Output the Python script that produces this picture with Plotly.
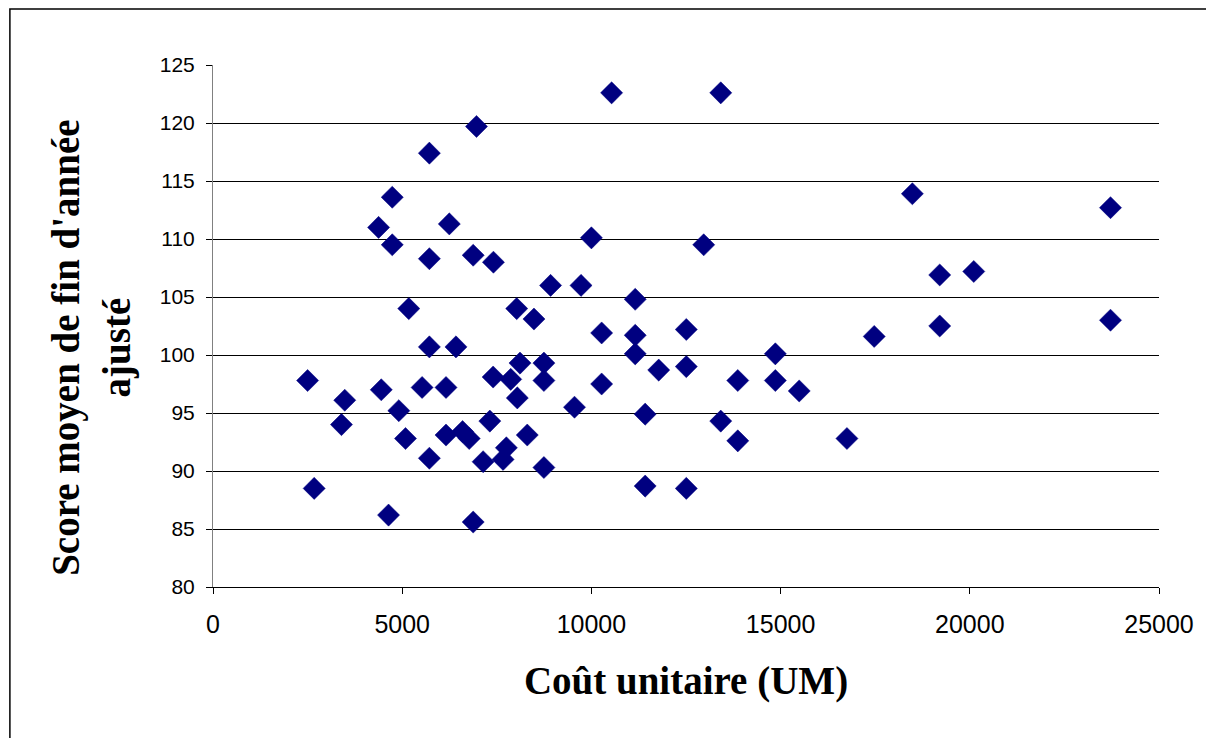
import plotly.graph_objects as go

# Coût unitaire (UM)
cout_unitaire = [
    2500, 2674, 3482, 3395, 4447, 4376, 4737, 4737, 4639, 4911,
    5087, 5174, 5718, 5718, 5718, 5526, 5718, 6158, 6158, 6245,
    6421, 6595, 6771, 6876, 6963, 6876, 7139, 7316, 7411, 7403,
    7666, 7753, 7868, 8026, 8042, 8113, 8305, 8482, 8745, 8745,
    8745, 8921, 9553, 9726, 10000, 10271, 10271, 10534, 11158, 11158,
    11158, 11421, 11421, 11779, 12508, 12508, 12508, 12968, 13418, 13418,
    13868, 13868, 14861, 14861, 15492, 16753, 17474, 18482, 19205, 19205,
    20105, 23718, 23718,
]

# Score moyen de fin d'année ajusté
score_ajuste = [
    97.8, 88.5, 96.1, 94.0, 97.0, 111.0, 113.6, 109.5, 86.2, 95.2,
    92.8, 104.0, 117.4, 108.3, 100.7, 97.2, 91.1, 97.2, 93.1, 111.3,
    100.7, 93.4, 92.8, 108.6, 119.7, 85.6, 90.8, 94.3, 108.0, 98.1,
    91.0, 92.0, 97.9, 104.0, 96.3, 99.3, 93.1, 103.1, 99.3, 97.8,
    90.3, 106.0, 95.5, 106.0, 110.1, 101.9, 97.5, 122.6, 104.8, 101.7,
    100.1, 94.9, 88.7, 98.7, 102.2, 99.0, 88.5, 109.5, 122.6, 94.3,
    97.8, 92.6, 100.1, 97.8, 96.9, 92.8, 101.6, 113.9, 106.9, 102.5,
    107.2, 112.7, 103.0,
]

x_ticks = [0, 5000, 10000, 15000, 20000, 25000]
y_ticks = [80, 85, 90, 95, 100, 105, 110, 115, 120, 125]

x_title = "Coût unitaire (UM)"
y_title = "Score moyen de fin d'année<br>ajusté"

title_font = dict(family="Liberation Serif, Times New Roman", size=39,
                  color="black", weight="bold")

fig = go.Figure()
fig.add_trace(go.Scatter(
    x=cout_unitaire,
    y=score_ajuste,
    mode="markers",
    marker=dict(symbol="diamond", size=17, color="#000080",
                line=dict(width=0.5, color="#000080")),
    showlegend=False,
    hoverinfo="x+y",
))

fig.update_layout(
    width=1198,
    height=730,
    paper_bgcolor="white",
    plot_bgcolor="white",
    margin=dict(l=205, r=43, t=57, b=151),
    xaxis=dict(
        range=[0, 25000],
        tickvals=x_ticks,
        ticktext=[str(v) for v in x_ticks],
        showgrid=False,
        zeroline=False,
        showline=True,
        linecolor="black",
        linewidth=1,
        ticks="outside",
        ticklen=6,
        tickcolor="black",
        tickfont=dict(family="Liberation Sans, Arial", size=25, color="black"),
        ticklabelstandoff=9,
        title=dict(text=x_title, standoff=29, font=title_font),
    ),
    yaxis=dict(
        range=[80, 125],
        tickvals=y_ticks,
        ticktext=[str(v) for v in y_ticks],
        showgrid=True,
        gridcolor="black",
        gridwidth=1,
        zeroline=False,
        showline=True,
        linecolor="#808080",
        linewidth=1,
        ticks="outside",
        ticklen=6,
        tickcolor="black",
        tickfont=dict(family="Liberation Sans, Arial", size=21, color="black"),
        ticklabelstandoff=7,
    ),
    annotations=[
        dict(text=y_title, textangle=-90, xref="paper", yref="paper",
             x=-0.128, y=0.458, xanchor="center", yanchor="middle",
             showarrow=False, font=title_font),
    ],
    shapes=[
        dict(type="rect", xref="paper", yref="paper",
             x0=-0.2147, y0=-0.34, x1=1.08, y1=1.1073,
             line=dict(color="black", width=1.5), fillcolor="rgba(0,0,0,0)",
             layer="below"),
    ],
)

fig.write_html("out.html")
